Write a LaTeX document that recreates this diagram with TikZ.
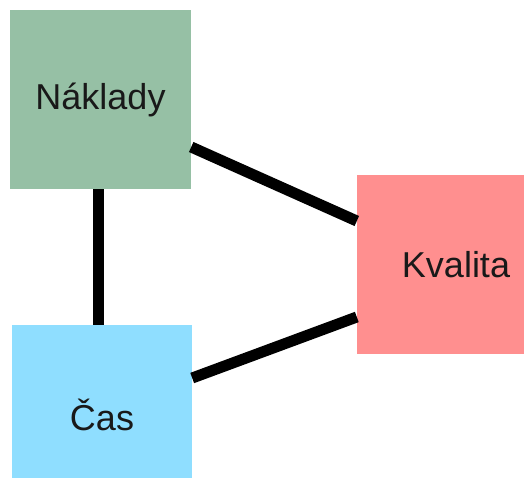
\documentclass[tikz,border=0pt]{standalone}
\usepackage{fontspec}
\setmainfont{Liberation Sans}
\definecolor{costgreen}{HTML}{96C0A5}
\definecolor{timeblue}{HTML}{8FDEFF}
\definecolor{qualitypink}{HTML}{FF8F8F}
\tikzset{
  corner/.style={rectangle, inner sep=0pt, text=black!90,
    font=\fontsize{36}{40}\selectfont},
  link/.style={line width=11pt, line cap=butt, black},
}
\begin{document}
\begin{tikzpicture}[x=1pt,y=-1pt]
  \useasboundingbox (0,0) rectangle (524,477);
  \clip (0,0) rectangle (524,477);
  \fill[white] (0,0) rectangle (524,477);
  % the three corners of the triangle
  \node[corner, fill=costgreen, minimum width=181pt, minimum height=179pt]
    (nak) at (100.5,99.5) {Náklady};
  \node[corner, fill=timeblue, minimum width=180pt, minimum height=180pt]
    (cas) at (102,415) {Čas};
  \node[corner, fill=qualitypink, minimum width=198pt, minimum height=179pt]
    (kva) at (456,264.5) {Kvalita};
  % connecting bars
  \draw[link] ([xshift=-2pt]nak.south) -- ([xshift=-3.5pt]cas.north);
  \draw[link] ([yshift=-47.5pt]nak.east) -- ([yshift=43.5pt]kva.west);
  \draw[link] ([yshift=37pt]cas.east) -- ([yshift=-52.5pt]kva.west);
\end{tikzpicture}
\end{document}
